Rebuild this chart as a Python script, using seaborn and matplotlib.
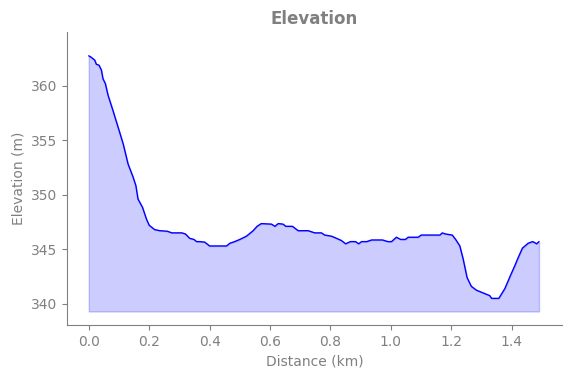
import matplotlib
matplotlib.use("Agg")
import matplotlib.pyplot as plt
import seaborn as sns
import pandas as pd

# Данные профиля высоты
distance_km = [0.0, 0.009, 0.02, 0.025, 0.034, 0.042, 0.047, 0.055, 0.064, 0.08,
               0.097, 0.114, 0.13, 0.147, 0.156, 0.163, 0.178, 0.191, 0.2, 0.218,
               0.235, 0.26, 0.275, 0.308, 0.32, 0.334, 0.348, 0.357, 0.367, 0.384,
               0.4, 0.456, 0.467, 0.483, 0.5, 0.522, 0.544, 0.557, 0.571, 0.605,
               0.616, 0.627, 0.643, 0.652, 0.674, 0.693, 0.726, 0.748, 0.77, 0.781,
               0.803, 0.82, 0.836, 0.85, 0.866, 0.883, 0.893, 0.903, 0.92, 0.936,
               0.972, 0.99, 1.002, 1.018, 1.032, 1.048, 1.057, 1.09, 1.1, 1.162,
               1.17, 1.18, 1.203, 1.214, 1.228, 1.239, 1.252, 1.266, 1.283, 1.305,
               1.327, 1.333, 1.357, 1.377, 1.394, 1.41, 1.419, 1.435, 1.454, 1.469,
               1.476, 1.482, 1.49]
elevation_m = [362.72, 362.57, 362.32, 361.95, 361.86, 361.4, 360.63, 360.17, 359.1, 357.72,
               356.19, 354.65, 352.82, 351.59, 350.82, 349.6, 348.83, 347.76, 347.2, 346.8,
               346.7, 346.65, 346.5, 346.5, 346.4, 346.0, 345.9, 345.7, 345.7, 345.65,
               345.3, 345.3, 345.55, 345.7, 345.9, 346.2, 346.7, 347.1, 347.35, 347.3,
               347.1, 347.35, 347.3, 347.1, 347.1, 346.7, 346.7, 346.5, 346.5, 346.3,
               346.2, 346.0, 345.8, 345.5, 345.7, 345.7, 345.5, 345.7, 345.7, 345.85,
               345.85, 345.7, 345.7, 346.1, 345.9, 345.9, 346.1, 346.1, 346.3, 346.3,
               346.5, 346.4, 346.3, 345.9, 345.3, 344.1, 342.4, 341.6, 341.25, 341.0,
               340.75, 340.5, 340.5, 341.4, 342.5, 343.5, 344.1, 345.1, 345.55, 345.7,
               345.6, 345.5, 345.7]
fill_base = 339.3

df = pd.DataFrame({"Distance": distance_km, "Elevation": elevation_m})

sns.set_style("ticks")
fig, ax = plt.subplots(figsize=(5.71, 3.78), dpi=100)
fig.subplots_adjust(left=0.1173, right=0.9842, top=0.9153, bottom=0.1402)

ax.fill_between(df["Distance"], df["Elevation"], fill_base, color="blue", alpha=0.2)
sns.lineplot(data=df, x="Distance", y="Elevation", color="blue", linewidth=1, ax=ax)

ax.set_ylim(338.06, 364.9)
ax.set_xlim(-0.072, 1.566)
ax.set_title("Elevation", color="gray", fontweight="bold", fontsize=12)
ax.set_xlabel("Distance (km)", color="gray")
ax.set_ylabel("Elevation (m)", color="gray")
ax.tick_params(colors="gray", labelcolor="gray")
for s in ["left", "bottom"]:
    ax.spines[s].set_color("gray")
sns.despine(ax=ax)

plt.savefig("out.png", dpi=100)
